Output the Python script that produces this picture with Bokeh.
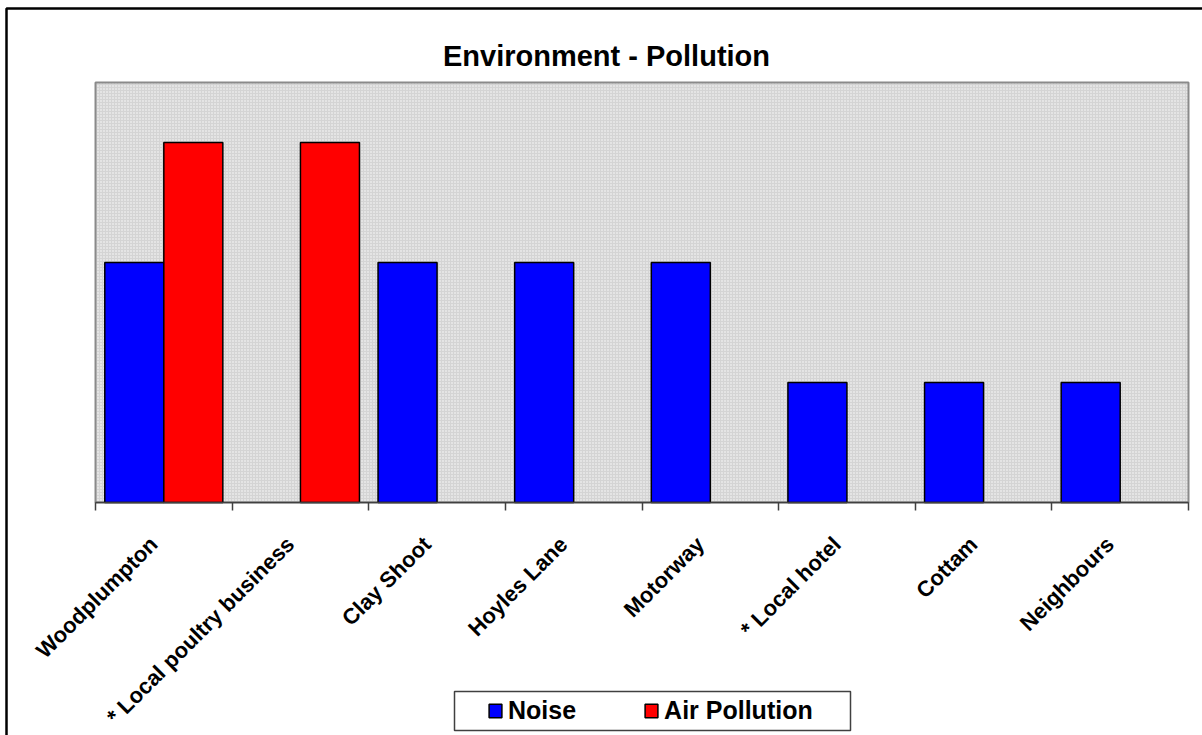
import numpy as np
from bokeh.plotting import figure
from bokeh.models import (Range1d, FixedTicker, Legend, LegendItem, Label,
                          BoxAnnotation, ColumnDataSource)
from bokeh.embed import file_html
from bokeh.resources import INLINE

# ---- data ----
categories = ["Woodplumpton", "* Local poultry business", "Clay Shoot", "Hoyles Lane",
              "Motorway", "* Local hotel", "Cottam", "Neighbours"]
noise = [2, 0, 2, 2, 2, 1, 1, 1]
air_pollution = [3, 3, 0, 0, 0, 0, 0, 0]
series_names = ["Noise", "Air Pollution"]
series_colors = ["#0000FF", "#FF0000"]
title_text = "Environment - Pollution"
y_max = 3.5

FONT = "Liberation Sans"
n = len(categories)
bar_w = 0.432
idx = np.arange(n)

# ---- layout (canvas pixels) ----
W, H = 1202, 735
plot_left, plot_right, plot_top, plot_bottom = 95, 1188, 82, 502
xpx = (plot_right - plot_left) / n
ypx = (plot_bottom - plot_top) / y_max
x_start = -plot_left / xpx
x_end = n + (W - plot_right) / xpx
y_end = y_max + plot_top / ypx
y_start = -(H - plot_bottom) / ypx

def px_x(px):
    return (px - plot_left) / xpx

def px_y(py):
    return (plot_bottom - py) / ypx

p = figure(width=W, height=H, output_backend="svg", toolbar_location=None,
           x_range=Range1d(x_start, x_end), y_range=Range1d(y_start, y_end),
           y_axis_location=None, min_border=0)
p.grid.visible = False
p.background_fill_color = "white"
p.border_fill_color = "white"
p.outline_line_color = None

# outer chart border (only left & top edges fall inside the window)
p.add_layout(BoxAnnotation(left=px_x(6), top=px_y(8),
                           right=px_x(W + 20), bottom=px_y(H + 20),
                           fill_alpha=0, line_color="black", line_alpha=1,
                           line_width=2.5, level="underlay"))

# plot area
p.add_layout(BoxAnnotation(left=0, right=n, bottom=0, top=y_max, level="underlay",
                           fill_color="#d4d4d4", fill_alpha=1,
                           line_color="#8a8a8a", line_alpha=1, line_width=2,
                           hatch_pattern="dot", hatch_color="white",
                           hatch_scale=3, hatch_weight=1, hatch_alpha=0.9))

renderers = []
for vals, off, col in [(noise, -bar_w / 2, series_colors[0]),
                       (air_pollution, bar_w / 2, series_colors[1])]:
    xs = [i + 0.5 + off for i, v in zip(idx, vals) if v > 0]
    tops = [v for v in vals if v > 0]
    src = ColumnDataSource(dict(x=xs, top=tops))
    r = p.vbar(x="x", top="top", bottom=0, width=bar_w, source=src,
               fill_color=col, line_color="black", line_width=1.5)
    renderers.append(r)

label_shift = 10 / xpx
ax = p.xaxis[0]
ax.fixed_location = 0
ax.bounds = (0, n)
major = [float(i + 0.5 - label_shift) for i in idx]
ax.ticker = FixedTicker(ticks=major, minor_ticks=list(range(n + 1)))
ax.major_label_overrides = {m: c for m, c in zip(major, categories)}
ax.major_label_orientation = np.pi / 4
ax.major_label_text_font = FONT
ax.major_label_text_font_style = "bold"
ax.major_label_text_font_size = "22px"
ax.major_label_text_color = "black"
ax.major_label_standoff = 30
ax.major_tick_in = 0
ax.major_tick_out = 0
ax.minor_tick_in = 0
ax.minor_tick_out = 8
ax.minor_tick_line_color = "#404040"
ax.minor_tick_line_width = 1.5
ax.axis_line_color = "#404040"
ax.axis_line_width = 1.5

p.add_layout(Label(x=px_x(606), y=y_max + 26.5 / ypx, text=title_text,
                   text_align="center", text_baseline="alphabetic",
                   text_font=FONT, text_font_style="bold", text_font_size="29px",
                   text_color="black"))

# legend frame
p.add_layout(BoxAnnotation(left=px_x(454), right=px_x(850), top=px_y(691),
                           bottom=px_y(730), fill_color="white", fill_alpha=1,
                           line_color="#404040", line_alpha=1, line_width=1.5))

legend = Legend(items=[LegendItem(label=series_names[0], renderers=[renderers[0]]),
                       LegendItem(label=series_names[1], renderers=[renderers[1]])],
                orientation="horizontal", location=(482, 5),
                label_text_font=FONT, label_text_font_style="bold",
                label_text_font_size="25px", label_text_color="black",
                glyph_width=16, glyph_height=17, label_standoff=5, spacing=67,
                padding=5, border_line_alpha=0, background_fill_alpha=0)
p.add_layout(legend, "center")

open("out.html", "w").write(file_html(p, INLINE))
